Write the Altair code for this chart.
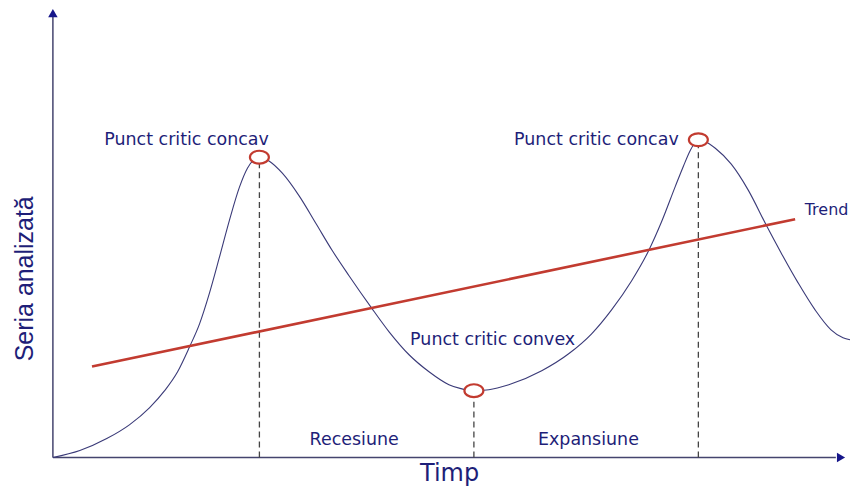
import altair as alt
import pandas as pd

# ---- data (time in 0..100 units, value in 0..100 units) ----
curve_t = [0, 3.375, 6.75, 9.625, 12.125, 14.0, 15.625, 17.125, 18.375, 19.625, 20.875,
           22.125, 23.375, 24.375, 25.125, 25.875,
           27.125, 28.75, 30.875, 33.0, 35.0, 37.125, 39.875, 42.125, 44.625, 47.125,
           49.625, 51.125, 52.75,
           54.625, 57.125, 61.25, 64.625, 67.5, 70.0, 72.5, 74.625, 76.25, 78.0, 79.0,
           79.875, 80.5, 80.875,
           81.625, 83.0, 85.0, 87.125, 89.375, 91.25, 93.375, 95.5, 97.5, 99.0, 99.875]
curve_v = [0, 1.56, 4.23, 7.35, 11.14, 14.92, 19.15, 24.72, 29.84, 36.75, 44.77,
           53.01, 60.36, 64.59, 66.37, 67.04,
           66.15, 63.47, 58.35, 52.12, 46.21, 40.53, 33.52, 28.06, 22.94, 19.15,
           16.26, 15.37, 14.92,
           15.14, 16.26, 19.38, 23.16, 27.62, 32.96, 39.42, 46.10, 52.56, 60.58, 65.03,
           68.60, 70.38, 70.94,
           70.60, 69.04, 65.48, 59.69, 51.89, 45.66, 38.98, 32.96, 28.51, 26.73, 26.28]

trend_t = [4.9, 93.0]
trend_v = [20.3, 53.2]
trend_label = "Trend"
trend_label_t = 94.2
trend_label_v = 54.1

critical_t = [25.875, 52.75, 80.875]
critical_v = [67.04, 14.92, 70.94]

label_text = ["Punct critic concav", "Punct critic concav", "Punct critic convex",
              "Recesiune", "Expansiune"]
label_t = [16.75, 68.1, 55.1, 37.75, 67.1]
label_v = [69.7, 69.7, 25.2, 2.9, 2.9]

x_title = "Timp"
y_title = "Seria analizată"

# ---- styling ----
NAVY = "#1e1e78"
CURVE = "#3a3a78"
AXIS = "#44446e"
ARROW = "#16168a"
RED = "#c23b30"

xs = alt.Scale(domain=[0, 100], nice=False, zero=False)
ys = alt.Scale(domain=[0, 100], nice=False, zero=False)

curve_df = pd.DataFrame({"t": curve_t, "v": curve_v})
trend_df = pd.DataFrame({"t": trend_t, "v": trend_v})
trend_lab_df = pd.DataFrame({"text": [trend_label], "t": [trend_label_t], "v": [trend_label_v]})
crit_df = pd.DataFrame({"t": critical_t, "v": critical_v, "z": [0] * len(critical_t)})
lab_df = pd.DataFrame({"text": label_text, "t": label_t, "v": label_v})
axes_df = pd.DataFrame({"t": [0, 0], "v": [0, 0], "t2": [0, 98.1], "v2": [98.4, 0]})
arrow_up_df = pd.DataFrame({"t": [0], "v": [99.2]})
arrow_right_df = pd.DataFrame({"t": [98.75], "v": [0]})
xt_df = pd.DataFrame({"text": [x_title], "t": [49.7], "v": [-5.35]})
yt_df = pd.DataFrame({"text": [y_title], "t": [-2.44], "v": [39.9]})

X = lambda f="t": alt.X(f"{f}:Q", scale=xs, axis=None)
Y = lambda f="v": alt.Y(f"{f}:Q", scale=ys, axis=None)

axes = alt.Chart(axes_df).mark_rule(color=AXIS, strokeWidth=1.5).encode(
    x=X(), y=Y(), x2="t2:Q", y2="v2:Q")

arrow_up = alt.Chart(arrow_up_df).mark_point(
    shape="triangle-up", filled=True, color=ARROW, size=90, opacity=1).encode(x=X(), y=Y())
arrow_right = alt.Chart(arrow_right_df).mark_point(
    shape="triangle-right", filled=True, color=ARROW, size=90, opacity=1).encode(x=X(), y=Y())

dashed = alt.Chart(crit_df).mark_rule(color="#444444", strokeWidth=1.3, strokeDash=[6, 4]).encode(
    x=X(), y=Y("z"), y2="v:Q")

curve = alt.Chart(curve_df).mark_line(color=CURVE, strokeWidth=1.1, interpolate="monotone").encode(
    x=X(), y=Y())

trend = alt.Chart(trend_df).mark_line(color=RED, strokeWidth=2.6).encode(x=X(), y=Y())

ellipse = "M -1 0 A 1 0.68 0 1 0 1 0 A 1 0.68 0 1 0 -1 0 Z"
circles = alt.Chart(crit_df).mark_point(
    shape=ellipse, size=361, filled=False, fill="white", fillOpacity=1,
    stroke=RED, strokeWidth=2.2, opacity=1).encode(x=X(), y=Y())

labels = alt.Chart(lab_df).mark_text(
    font="DejaVu Sans", fontSize=17.5, color=NAVY, align="center", baseline="alphabetic").encode(
    x=X(), y=Y(), text="text:N")

trend_text = alt.Chart(trend_lab_df).mark_text(
    font="DejaVu Sans", fontSize=16, color=NAVY, align="left", baseline="alphabetic").encode(
    x=X(), y=Y(), text="text:N")

xtitle = alt.Chart(xt_df).mark_text(
    font="DejaVu Sans", fontSize=24, color=NAVY, align="center", baseline="alphabetic").encode(
    x=X(), y=Y(), text="text:N")

ytitle = alt.Chart(yt_df).mark_text(
    font="Liberation Sans", fontSize=25, color=NAVY, align="center", baseline="alphabetic",
    angle=270).encode(x=X(), y=Y(), text="text:N")

chart = alt.layer(
    axes, dashed, curve, trend, circles, arrow_up, arrow_right, labels, trend_text, xtitle, ytitle
).properties(
    width=800, height=449,
    autosize=alt.AutoSizeParams(type="none"),
    padding={"left": 45, "top": 1, "right": 0, "bottom": 30},
    background="white",
).configure_view(stroke=None)

chart.save("out.html", embed_options={"renderer": "svg", "actions": False})
